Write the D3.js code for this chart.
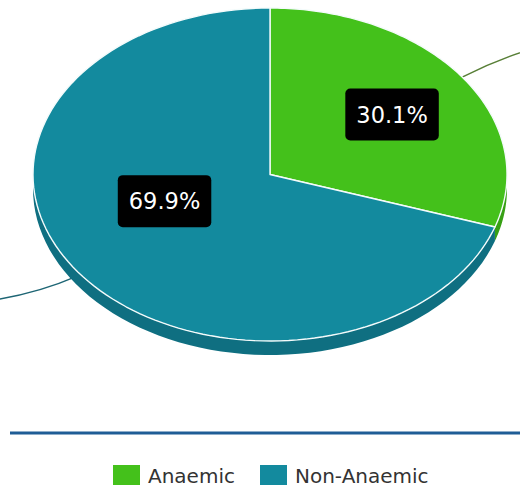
<!DOCTYPE html>
<html><head><meta charset="utf-8">
<script src="https://cdn.jsdelivr.net/npm/d3@7"></script>
<style>html,body{margin:0;padding:0;background:#fff;}svg{display:block;}</style>
</head><body>
<svg id="chart" width="520" height="488"></svg>
<script>
// ---- data ----
const categories = ["Anaemic", "Non-Anaemic"];
const values = [30.1, 69.9];
const labels = ["30.1%", "69.9%"];
const colors = ["#44c11b", "#138a9e"];
const sideColors = ["#37a014", "#0f6f81"];
const leaderColors = ["#587f37", "#1d6574"];

// ---- layout ----
const W = 520, H = 488;
const cx = 270, cy = 174.5, rx = 237, ry = 166.5, depth = 14;
// label anchor positions in unit-ellipse coords
const labelAnchor = [[0.515, -0.36], [-0.445, 0.16]];
const leaderReach = [1.32, 1.28];

const svg = d3.select("#chart");
const pie = d3.pie().sort(null).value(d => d)(values);

const px = (t, k=1) => cx + rx * k * Math.sin(t);
const py = (t, k=1) => cy - ry * k * Math.cos(t);

// leader lines (drawn behind)
pie.forEach((p, i) => {
  const m = (p.startAngle + p.endAngle) / 2;
  const dir = Math.sin(m) >= 0 ? 1 : -1;
  const p0 = [px(m, 1.0), py(m, 1.0) + (Math.cos(m) < 0 ? 4 : 0)];
  const p1 = [px(m, leaderReach[i]), py(m, leaderReach[i])];
  const p2 = [p1[0] + dir * 60, p1[1] + (dir > 0 ? -8 : 4)];
  const path = d3.path();
  path.moveTo(p0[0], p0[1]);
  path.quadraticCurveTo(p1[0], p1[1], p2[0], p2[1]);
  svg.append("path").attr("d", path.toString()).attr("fill", "none")
    .attr("stroke", leaderColors[i]).attr("stroke-width", 1.4);
});

// sides (extrusion) for visible front part (angles pi/2 .. 3pi/2)
pie.forEach((p, i) => {
  const a0 = Math.max(p.startAngle, Math.PI / 2);
  const a1 = Math.min(p.endAngle, 3 * Math.PI / 2);
  if (a1 <= a0) return;
  const n = 60;
  const ts = d3.range(n + 1).map(k => a0 + (a1 - a0) * k / n);
  const top = ts.map(t => [px(t), py(t)]);
  const bot = ts.slice().reverse().map(t => [px(t), py(t) + depth]);
  const pts = top.concat(bot);
  svg.append("path").attr("d", "M" + pts.map(q => q.join(",")).join("L") + "Z")
    .attr("fill", sideColors[i]);
});

// top face slices
pie.forEach((p, i) => {
  const n = 120;
  const ts = d3.range(n + 1).map(k => p.startAngle + (p.endAngle - p.startAngle) * k / n);
  const pts = [[cx, cy]].concat(ts.map(t => [px(t), py(t)]));
  svg.append("path").attr("d", "M" + pts.map(q => q.join(",")).join("L") + "Z")
    .attr("fill", colors[i]).attr("stroke", "#f4fbfb").attr("stroke-width", 1.4)
    .attr("stroke-linejoin", "round");
});

// labels
pie.forEach((p, i) => {
  const lx = cx + rx * labelAnchor[i][0];
  const ly = cy + ry * labelAnchor[i][1];
  const g = svg.append("g");
  const t = g.append("text").attr("x", lx).attr("y", ly).attr("text-anchor", "middle")
    .attr("dominant-baseline", "central")
    .attr("font-family", "DejaVu Sans, sans-serif").attr("font-size", 22.5)
    .attr("fill", "#fff").text(labels[i]);
  const bb = t.node().getBBox();
  g.insert("rect", "text").attr("x", lx - bb.width / 2 - 11).attr("y", ly - 26)
    .attr("width", bb.width + 22).attr("height", 52).attr("rx", 5).attr("fill", "#000");
});

// separator line
svg.append("line").attr("x1", 10).attr("x2", 520).attr("y1", 433).attr("y2", 433)
  .attr("stroke", "#1f5d96").attr("stroke-width", 3);

// legend
const legendX = d3.scalePoint().domain(categories).range([113, 260]);
const lg = svg.append("g");
categories.forEach((c, i) => {
  const x = legendX(c);
  lg.append("rect").attr("x", x).attr("y", 465).attr("width", 27).attr("height", 20)
    .attr("fill", colors[i]);
  lg.append("text").attr("x", x + 35).attr("y", 483)
    .attr("font-family", "DejaVu Sans, sans-serif").attr("font-size", 20)
    .attr("fill", "#333").text(c);
});
</script>
</body></html>
